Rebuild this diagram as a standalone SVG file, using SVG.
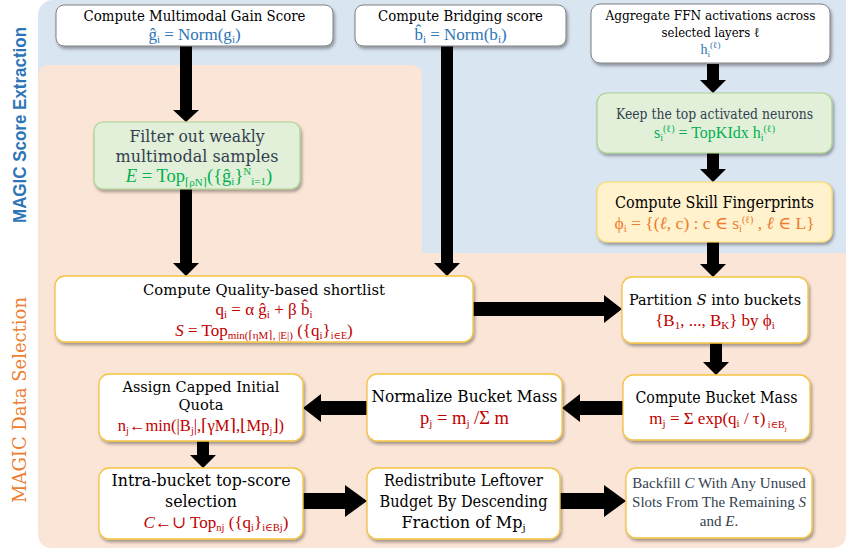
<svg xmlns="http://www.w3.org/2000/svg" width="846" height="553" viewBox="0 0 846 553">
<defs>
<filter id="sh" x="-10%" y="-10%" width="125%" height="140%">
<feDropShadow dx="1.5" dy="2.5" stdDeviation="1.5" flood-color="#000" flood-opacity="0.35"/>
</filter>
<style>
text{font-family:"DejaVu Serif","Liberation Serif",serif;text-anchor:middle;}
.f{font-family:"Liberation Serif","DejaVu Serif",serif;}
.w{fill:#fff;stroke:#7f7f7f;stroke-width:1;filter:url(#sh);}
.y{fill:#fff;stroke:#f5c342;stroke-width:1.3;filter:url(#sh);}
.g{fill:#e2f0d9;stroke:#a9d18e;stroke-width:1.2;filter:url(#sh);}
.o{fill:#fff2cc;stroke:#ffd966;stroke-width:1.2;filter:url(#sh);}
.k{fill:#000;}
.d{fill:#333f50;}
.bl{fill:#2e75b6;}
.gr{fill:#00b050;}
.rd{fill:#c00000;}
.or{fill:#ed7d31;}
.ar{fill:#000;}
.lbl1{font-family:"Liberation Sans",Arial,sans-serif;font-weight:bold;font-size:19px;fill:#2e75b6;}
.lbl2{font-family:"DejaVu Serif","Liberation Serif",serif;font-size:19px;fill:#ed7d31;}
</style>
</defs>
<rect x="38" y="0" width="830" height="262" rx="15" fill="#dae5f2"/>
<path d="M38,77 Q38,65 50,65 L410,65 Q422,65 422,77 L422,253 L846,253 L846,533 Q846,548 831,548 L53,548 Q38,548 38,533 Z" fill="#fbe5d6"/>
<text class="lbl1" transform="translate(26,125) rotate(-90)" textLength="196" lengthAdjust="spacingAndGlyphs">MAGIC Score Extraction</text>
<text class="lbl2" transform="translate(26,400) rotate(-90)" textLength="206" lengthAdjust="spacingAndGlyphs">MAGIC Data Selection</text>

<g id="connectors">
<polygon class="ar" points="180,46 192,46 192,110 199,110 186,122 173,110 180,110"/>
<polygon class="ar" points="180,189 192,189 192,263 199,263 186,276 173,263 180,263"/>
<polygon class="ar" points="441,46 453,46 453,263 460,263 447,276 434,263 441,263"/>
<polygon class="ar" points="707,64 719,64 719,80 726,80 713,93 700,80 707,80"/>
<polygon class="ar" points="707,153 719,153 719,169 726,169 713,182 700,169 707,169"/>
<polygon class="ar" points="707,242 719,242 719,264 726,264 713,277 700,264 707,264"/>
<polygon class="ar" points="473,302 604,302 604,295 622,309 604,323 604,316 473,316"/>
<polygon class="ar" points="710,343 722,343 722,362 729,362 716,375 703,362 710,362"/>
<polygon class="ar" points="623,401 580,401 580,394 562,408 580,422 580,415 623,415"/>
<polygon class="ar" points="367,401 321,401 321,394 303,408 321,422 321,415 367,415"/>
<polygon class="ar" points="197,441 209,441 209,455 216,455 203,468 190,455 197,455"/>
<polygon class="ar" points="303,493 345,493 345,485 367,501 345,517 345,509 303,509"/>
<polygon class="ar" points="560,493 604,493 604,485 626,501 604,517 604,509 560,509"/>
</g>

<g id="gain">
<rect class="w" x="56" y="5" width="277" height="41" rx="8"/>
<text class="k" x="194.5" y="21" font-size="15" textLength="222" lengthAdjust="spacingAndGlyphs">Compute Multimodal Gain Score</text>
<text class="bl f" x="194.5" y="40" font-size="17">ĝ<tspan font-size="11" baseline-shift="-3">i</tspan> = Norm(g<tspan font-size="11" baseline-shift="-3">i</tspan>)</text>
</g>

<g id="bridging">
<rect class="w" x="355" y="5" width="211" height="41" rx="8"/>
<text class="k" x="460.5" y="21" font-size="15" textLength="165" lengthAdjust="spacingAndGlyphs">Compute Bridging score</text>
<text class="bl f" x="460.5" y="40" font-size="17">b̂<tspan font-size="11" baseline-shift="-3">i</tspan> = Norm(b<tspan font-size="11" baseline-shift="-3">i</tspan>)</text>
</g>

<g id="aggregate">
<rect class="w" x="591" y="4" width="239" height="59" rx="9"/>
<text class="k" x="710.5" y="20" font-size="13.5" textLength="210" lengthAdjust="spacingAndGlyphs">Aggregate FFN activations across</text>
<text class="k" x="710.5" y="37" font-size="13.5" textLength="98" lengthAdjust="spacingAndGlyphs">selected layers ℓ</text>
<text class="bl f" x="710.5" y="54" font-size="14">h<tspan font-size="9" baseline-shift="-3">i</tspan><tspan font-size="9" baseline-shift="6">(ℓ)</tspan></text>
</g>

<g id="filter">
<rect class="g" x="94" y="122" width="206" height="67" rx="9"/>
<text class="d" x="197" y="142" font-size="17" textLength="135" lengthAdjust="spacingAndGlyphs">Filter out weakly</text>
<text class="d" x="197" y="162" font-size="17" textLength="163" lengthAdjust="spacingAndGlyphs">multimodal samples</text>
<text class="gr f" x="199" y="182" font-size="18.5"><tspan font-style="italic">E</tspan> = Top<tspan font-size="11" baseline-shift="-4">⌈ρN⌉</tspan>({ĝ<tspan font-size="11" baseline-shift="-3">i</tspan>}<tspan font-size="11" baseline-shift="7">N</tspan><tspan font-size="11" baseline-shift="-3">i=1</tspan>)</text>
</g>

<g id="keep">
<rect class="g" x="597" y="93" width="235" height="60" rx="10"/>
<text class="d" x="714.5" y="119" font-size="14" textLength="197" lengthAdjust="spacingAndGlyphs">Keep the top activated neurons</text>
<text class="gr f" x="714.5" y="138" font-size="16">s<tspan font-size="10" baseline-shift="-3">i</tspan><tspan font-size="10" baseline-shift="6">(ℓ)</tspan> = TopKIdx h<tspan font-size="10" baseline-shift="-3">i</tspan><tspan font-size="10" baseline-shift="6">(ℓ)</tspan></text>
</g>

<g id="fingerprints">
<rect class="o" x="597" y="182" width="235" height="60" rx="10"/>
<text class="k" x="714.5" y="208" font-size="16" textLength="199" lengthAdjust="spacingAndGlyphs">Compute Skill Fingerprints</text>
<text class="or f" x="714.5" y="229" font-size="17.5">ϕ<tspan font-size="11" baseline-shift="-3">i</tspan> = {(<tspan font-style="italic">ℓ</tspan>, c) : c ∈ s<tspan font-size="10" baseline-shift="-3">i</tspan><tspan font-size="10" baseline-shift="6">(ℓ)</tspan> , <tspan font-style="italic">ℓ</tspan> ∈ L}</text>
</g>

<g id="quality">
<rect class="y" x="55" y="276" width="418" height="66" rx="10"/>
<text class="k" x="264" y="295" font-size="15" textLength="242" lengthAdjust="spacingAndGlyphs">Compute Quality-based shortlist</text>
<text class="rd f" x="264" y="315" font-size="17">q<tspan font-size="11" baseline-shift="-3">i</tspan> = α ĝ<tspan font-size="11" baseline-shift="-3">i</tspan> + β b̂<tspan font-size="11" baseline-shift="-3">i</tspan></text>
<text class="rd f" x="264" y="336" font-size="17"><tspan font-style="italic">S</tspan> = Top<tspan font-size="11" baseline-shift="-3">min(⌈ηM⌉, |E|)</tspan> ({q<tspan font-size="11" baseline-shift="-3">i</tspan>}<tspan font-size="10" baseline-shift="-3">i∈E</tspan>)</text>
</g>

<g id="partition">
<rect class="y" x="622" y="277" width="186" height="66" rx="10"/>
<text class="k" x="715" y="305" font-size="14.4">Partition <tspan font-style="italic">S</tspan> into buckets</text>
<text class="rd f" x="715" y="326" font-size="17">{B<tspan font-size="11" baseline-shift="-3">1</tspan>, ..., B<tspan font-size="11" baseline-shift="-3">K</tspan>} by ϕ<tspan font-size="11" baseline-shift="-3">i</tspan></text>
</g>

<g id="bucketmass">
<rect class="y" x="623" y="375" width="187" height="65" rx="10"/>
<text class="k" x="716.5" y="403" font-size="16" textLength="162" lengthAdjust="spacingAndGlyphs">Compute Bucket Mass</text>
<text class="rd f" x="718" y="424" font-size="17">m<tspan font-size="11" baseline-shift="-3">j</tspan> = Σ exp(q<tspan font-size="11" baseline-shift="-3">i</tspan> / τ)<tspan font-size="10" baseline-shift="-4"> i∈B</tspan><tspan font-size="7" baseline-shift="-7">j</tspan></text>
</g>

<g id="normalize">
<rect class="y" x="367" y="374" width="195" height="67" rx="10"/>
<text class="k" x="464.5" y="402" font-size="16.5" textLength="186" lengthAdjust="spacingAndGlyphs">Normalize Bucket Mass</text>
<text class="rd f" x="464.5" y="424" font-size="18.5">p<tspan font-size="11" baseline-shift="-3">j</tspan> = m<tspan font-size="11" baseline-shift="-3">j</tspan> /Σ m</text>
</g>

<g id="assign">
<rect class="y" x="99" y="374" width="204" height="67" rx="10"/>
<text class="k" x="201" y="392" font-size="15" textLength="157" lengthAdjust="spacingAndGlyphs">Assign Capped Initial</text>
<text class="k" x="201" y="410" font-size="15" textLength="45" lengthAdjust="spacingAndGlyphs">Quota</text>
<text class="rd f" x="201" y="431" font-size="16.5">n<tspan font-size="10" baseline-shift="-3">j</tspan>←min(|B<tspan font-size="10" baseline-shift="-3">j</tspan>|,⌈γM⌉,⌊Mp<tspan font-size="10" baseline-shift="-3">j</tspan>⌋)</text>
</g>

<g id="intrabucket">
<rect class="y" x="99" y="468" width="204" height="71" rx="10"/>
<text class="k" x="201" y="486" font-size="17" textLength="179" lengthAdjust="spacingAndGlyphs">Intra-bucket top-score</text>
<text class="k" x="201" y="507" font-size="17" textLength="72" lengthAdjust="spacingAndGlyphs">selection</text>
<text class="rd f" x="216" y="528" font-size="17"><tspan font-style="italic">C</tspan>←∪ Top<tspan font-size="10.5" baseline-shift="-3">nj</tspan> ({q<tspan font-size="10.5" baseline-shift="-3">i</tspan>}<tspan font-size="10.5" baseline-shift="-3">i∈Bj</tspan>)</text>
</g>

<g id="redistribute">
<rect class="y" x="367" y="468" width="193" height="71" rx="10"/>
<text class="k" x="463.5" y="486" font-size="17" textLength="159" lengthAdjust="spacingAndGlyphs">Redistribute Leftover</text>
<text class="k" x="463.5" y="507" font-size="17" textLength="168" lengthAdjust="spacingAndGlyphs">Budget By Descending</text>
<text class="k" x="463.5" y="528" font-size="16">Fraction of Mp<tspan font-size="10" baseline-shift="-3">j</tspan></text>
</g>

<g id="backfill">
<rect class="y" x="626" y="468" width="186" height="70" rx="10"/>
<text class="d f" x="719" y="488" font-size="15">Backfill <tspan font-style="italic">C</tspan> With Any Unused</text>
<text class="d f" x="719" y="507" font-size="15">Slots From The Remaining <tspan font-style="italic">S</tspan></text>
<text class="d f" x="719" y="526" font-size="15">and <tspan font-style="italic">E</tspan>.</text>
</g>
</svg>
